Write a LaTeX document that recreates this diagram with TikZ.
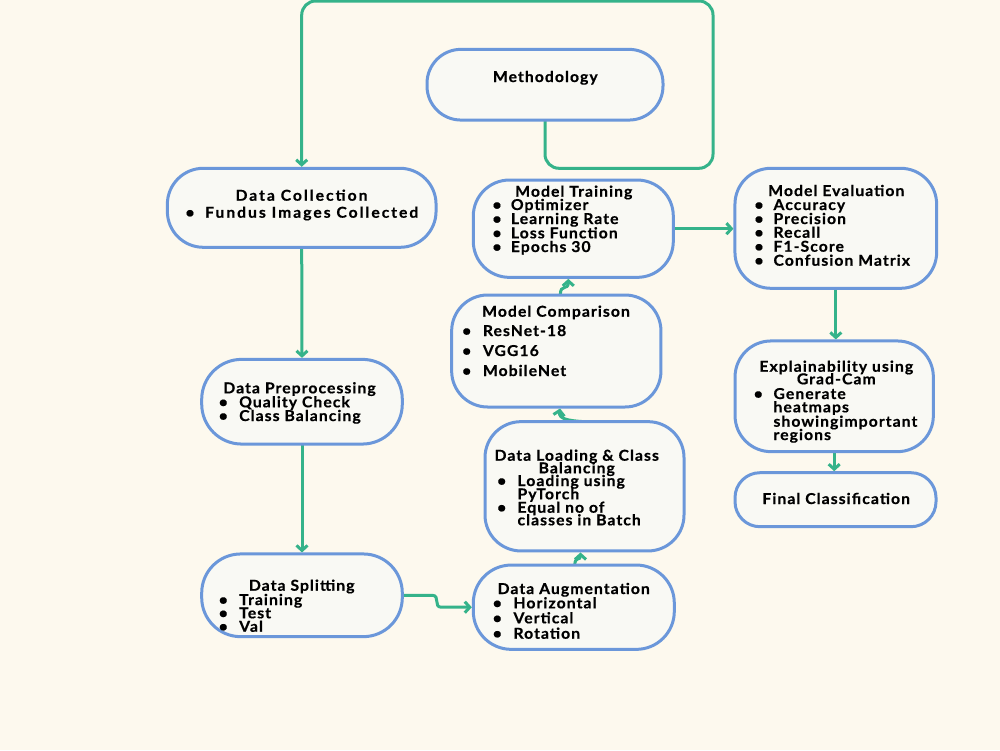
\documentclass[tikz,border=0pt]{standalone}
\usepackage{fontspec}
\setmainfont{Lato}[LetterSpace=7,FakeStretch=1.05,FakeBold=0.6]
\usetikzlibrary{arrows.meta,calc}
\definecolor{bgcol}{HTML}{FDF9EE}
\definecolor{boxfill}{HTML}{F9F9F4}
\definecolor{boxline}{HTML}{6B97DA}
\definecolor{conncol}{HTML}{35B38A}
\tikzset{
 box/.style={draw=boxline, fill=boxfill, line width=3pt, rounded corners=35pt, inner sep=0pt},
 conn/.style={draw=conncol, line width=3pt, shorten >=1.5pt, -{Straight Barb[length=5pt,width=11pt]}},
 txt/.style={font=\fontsize{15}{15}\selectfont\bfseries, inner sep=0pt, text=black},
 wide/.style={font=\fontsize{15}{15}\selectfont\bfseries\addfontfeatures{LetterSpace=13}},
}
\newcommand\Hd[5][]{\node[txt,anchor=base,#1] (#2) at (#3,#4) {#5};}
\newcommand\Bu[6][]{\node[txt,anchor=base] (#2b) at (#3,#5) {\textbullet}; \node[txt,anchor=base west,#1] (#2) at (#4,#5) {#6};}
\newcommand\Ln[4]{\node[txt,anchor=base west] (#1) at (#2,#3) {#4};}
\begin{document}
\begin{tikzpicture}[x=1pt,y=-1pt]
\fill[bgcol] (0,0) rectangle (1000,750);
\useasboundingbox (0,0) rectangle (1000,750);
% box positions (drawn later)
\path node[box, draw=none, fill=none, minimum width=233pt, minimum height=67.7pt] (meth) at (545,84.7) {}
 node[box, draw=none, fill=none, minimum width=265.7pt, minimum height=76pt] (dc) at (301.7,207.8) {}
 node[box, draw=none, fill=none, minimum width=197.6pt, minimum height=81.7pt] (pp) at (302,401.7) {}
 node[box, draw=none, fill=none, minimum width=197.6pt, minimum height=79.7pt] (ds) at (302,595.3) {}
 node[box, draw=none, fill=none, minimum width=198pt, minimum height=81.3pt] (aug) at (573.8,607.2) {}
 node[box, draw=none, fill=none, minimum width=196pt, minimum height=126.3pt] (ld) at (584.5,486.3) {}
 node[box, draw=none, fill=none, minimum width=206.3pt, minimum height=109pt] (mc) at (556.3,351) {}
 node[box, draw=none, fill=none, minimum width=197pt, minimum height=94.3pt] (mt) at (573.3,228.7) {}
 node[box, draw=none, fill=none, minimum width=198.7pt, minimum height=117pt] (me) at (835.8,228.3) {}
 node[box, draw=none, fill=none, minimum width=195.3pt, minimum height=107.7pt] (ex) at (834.2,396.3) {}
 node[box, draw=none, fill=none, minimum width=198pt, minimum height=51pt] (fc) at (835.5,499.7) {};
% connectors
\coordinate (loopBR) at (713,168.3);
\coordinate (loopTL) at (301.7,1);
\draw[conn, rounded corners=14pt] (meth.south) |- (loopBR) |- (loopTL) -- (dc.north);
\draw[conn] (dc.south) -- (pp.north);
\draw[conn] (pp.south) -- (ds.north);
\draw[conn] (ds.east) -- ++(30,0) .. controls +(8,0) and +(-8,0) .. ($(aug.west)+(-32,0)$) -- (aug.west);
\draw[conn] ($(aug.north)+(1,0)$) .. controls ($(aug.north)+(1,-9)$) and ($(ld.south)+(-4,10)$) .. ($(ld.south)+(-4,0)$);
\draw[conn] ($(ld.north)+(-1,0)$) .. controls ($(ld.north)+(-16,-1)$) and ($(mc.south)+(2,12)$) .. ($(mc.south)+(4,0)$);
\draw[conn] ($(mc.north)+(4,0)$) .. controls ($(mc.north)+(4,-12)$) and ($(mt.south)+(-5,14)$) .. ($(mt.south)+(-5,0)$);
\draw[conn] (mt.east) -- (mt.east -| me.west);
\draw[conn] (me.south) -- (me.south |- ex.north);
\draw[conn] (ex.south) -- (ex.south |- fc.north);
% boxes
\foreach \b/\r in {meth/34,dc/36,pp/40,ds/39,aug/38,ld/36,mc/36,mt/36,me/36,ex/36,fc/25}
  \draw[box, rounded corners=\r pt] (\b.north west) rectangle (\b.south east);
% texts
\Hd{methT}{545.3}{82}{Methodology}
\Hd[wide]{dcH}{301.5}{200.7}{Data Collection}
\Bu[wide]{dcA}{190}{205}{217.7}{Fundus Images Collected}
\Hd{ppH}{299.5}{393.3}{Data Preprocessing}
\Bu{ppA}{223.3}{239}{407.3}{Quality Check}
\Bu{ppB}{223.3}{239}{421}{Class Balancing}
\Hd{dsH}{301.7}{590.7}{Data Splitting}
\Bu{dsA}{223.3}{239}{605}{Training}
\Bu{dsB}{223.3}{239}{618.3}{Test}
\Bu{dsC}{223.3}{239}{631.7}{Val}
\Hd{augH}{573.7}{594}{Data Augmentation}
\Bu{augA}{497.3}{513.3}{608.3}{Horizontal}
\Bu{augB}{497.3}{513.3}{623.3}{Vertical}
\Bu{augC}{497.3}{513.3}{638.7}{Rotation}
\Hd{ldH}{576.7}{460.7}{Data Loading \& Class}
\Hd{ldH2}{576.7}{473.3}{Balancing}
\Bu{ldA}{501.7}{517.3}{486}{Loading using}
\Ln{ldA2}{517.3}{499.3}{PyTorch}
\Bu{ldB}{501.7}{517.3}{512.7}{Equal no of}
\Ln{ldB2}{517.3}{525.3}{classes in Batch}
\Hd{mcH}{556}{316.7}{Model Comparison}
\Bu{mcA}{466.7}{482.7}{336}{ResNet-18}
\Bu{mcB}{466.7}{482.7}{356}{VGG16}
\Bu{mcC}{466.7}{482.7}{376}{MobileNet}
\Hd{mtH}{573.8}{196.7}{Model Training}
\Bu{mtA}{497}{510.7}{210}{Optimizer}
\Bu{mtB}{497}{510.7}{224}{Learning Rate}
\Bu{mtC}{497}{510.7}{238.3}{Loss Function}
\Bu{mtD}{497}{510.7}{252}{Epochs 30}
\Hd{meH}{836.3}{196}{Model Evaluation}
\Bu{meA}{759}{773.3}{210}{Accuracy}
\Bu{meB}{759}{773.3}{224}{Precision}
\Bu{meC}{759}{773.3}{237.7}{Recall}
\Bu{meD}{759}{773.3}{251.7}{F1-Score}
\Bu{meE}{759}{773.3}{265.7}{Confusion Matrix}
\Hd{exH}{836.3}{371.7}{Explainability using}
\Hd{exH2}{836.3}{384.3}{Grad-Cam}
\Bu{exA}{758.3}{773.3}{399}{Generate}
\Ln{exA2}{773.3}{412.3}{heatmaps}
\Ln{exA3}{773.3}{426.7}{showingimportant}
\Ln{exA4}{773.3}{440}{regions}
\Hd{fcT}{836.2}{504}{Final Classification}
\end{tikzpicture}
\end{document}
